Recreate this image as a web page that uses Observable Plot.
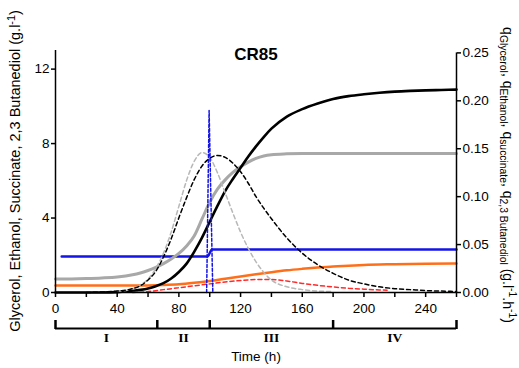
<!DOCTYPE html>
<html><head><meta charset="utf-8">
<script src="https://cdn.jsdelivr.net/npm/d3@7"></script>
<script src="https://cdn.jsdelivr.net/npm/@observablehq/plot@0.6"></script>
<style>body{margin:0;background:#fff} svg{display:block}</style>
</head><body><div id="chart"></div>
<script>
const FONT = "'Liberation Sans', Arial, sans-serif";
const SERIF = "'Liberation Serif', 'Times New Roman', serif";

// ---- data (concentrations, g/l, left axis) ----
const blackT = [0,10,20,30,40,50,55,60,65,70,75,80,85,90,95,100,105,110,115,120,125,130,135,140,150,160,170,180,190,200,210,220,230,240,250,260];
const blackV = [0,0,0,0,0.02,0.08,0.14,0.22,0.34,0.5,0.75,1.1,1.55,2.2,2.95,3.8,4.65,5.45,6.1,6.7,7.3,7.85,8.35,8.8,9.45,9.85,10.15,10.4,10.55,10.65,10.73,10.79,10.83,10.86,10.88,10.9];
const grayT = [0,10,20,30,40,50,55,60,65,70,75,80,85,90,95,100,105,110,115,120,125,130,135,140,150,160,200,260];
const grayV = [0.72,0.73,0.75,0.78,0.83,0.95,1.05,1.18,1.35,1.55,1.8,2.1,2.5,3.05,3.95,4.85,5.55,6.05,6.45,6.75,7.0,7.2,7.33,7.4,7.45,7.47,7.47,7.47];
const blueT = [4,98.5,101.5,260];
const blueV = [1.93,1.93,2.31,2.31];
const orangeT = [0,20,40,60,70,80,90,100,110,120,130,140,150,160,170,180,190,200,220,240,260];
const orangeV = [0.37,0.37,0.37,0.38,0.4,0.44,0.52,0.62,0.74,0.86,0.98,1.09,1.19,1.27,1.34,1.4,1.44,1.48,1.52,1.55,1.56];

// ---- data (specific rates, g/l/h, right axis) ----
const qBlackT = [20,30,40,50,55,60,65,70,75,80,85,90,95,100,105,110,115,120,125,130,135,140,150,160,170,180,190,200,210,220,230,240,250,260];
const qBlackV = [0,0.0005,0.0015,0.004,0.007,0.013,0.022,0.037,0.056,0.078,0.099,0.118,0.132,0.14,0.143,0.141,0.135,0.126,0.114,0.1,0.088,0.077,0.057,0.041,0.029,0.02,0.013,0.009,0.006,0.004,0.003,0.002,0.0015,0.001];
const qGrayT = [40,50,55,60,65,70,75,80,85,90,95,100,105,110,115,120,125,130,135,140,150,160,170,180];
const qGrayV = [0.001,0.004,0.008,0.014,0.025,0.041,0.063,0.09,0.117,0.137,0.146,0.141,0.125,0.104,0.083,0.063,0.046,0.032,0.021,0.013,0.006,0.003,0.0015,0.001];
const qRedT = [50,60,70,80,90,100,110,120,130,140,150,160,170,180,190,200,210,215];
const qRedV = [0,0.001,0.003,0.005,0.007,0.009,0.011,0.0125,0.0135,0.0135,0.012,0.0095,0.0075,0.0058,0.0045,0.0035,0.0027,0.0024];
const qBlueT = [98,99.6,102];
const qBlueV = [0,0.19,0];

// ---- axes ----
const majorX = [0,40,80,120,160,200,240];
const minorX = [20,60,100,140,180,220,260];
const leftTicks = [0,4,8,12];
const rightTicks = [0,0.05,0.10,0.15,0.20,0.25];
const phaseBounds = [0,66,100,180,260];
const phases = ["I","II","III","IV"];
const leftMax = 13, rightMax = 0.2525;
const k = leftMax / rightMax;

const rows = (T, V, f = 1) => T.map((t, i) => ({t, v: V[i] * f}));

const solid = (T, V, color, w) => Plot.line(rows(T, V), {x: "t", y: "v", stroke: color, strokeWidth: w, curve: "monotone-x"});
const dashed = (T, V, color, w, dash, curve = "monotone-x") => Plot.line(rows(T, V, k), {x: "t", y: "v", stroke: color, strokeWidth: w, strokeDasharray: dash, curve});

const plot = Plot.plot({
  width: 519, height: 368,
  marginLeft: 55, marginRight: 63, marginTop: 50, marginBottom: 76,
  style: {fontFamily: FONT, fontSize: "13px", color: "#000", background: "#fff", overflow: "visible"},
  x: {domain: [0, 260], axis: null},
  y: {domain: [0, leftMax], axis: null},
  marks: [
    solid(orangeT, orangeV, "#ff6f1a", 2.5),
    solid(blueT, blueV, "#1414e6", 2.5),
    solid(grayT, grayV, "#a8a8a8", 3),
    solid(blackT, blackV, "#000", 2.6),
    dashed(qRedT, qRedV, "#ff2a2a", 1.5, "4,3"),
    dashed(qGrayT, qGrayV, "#b8b8b8", 1.5, "4,3"),
    dashed(qBlackT, qBlackV, "#000", 1.5, "4,3"),
    dashed(qBlueT, qBlueV, "#1414e6", 1.5, "3,2", "linear"),
    Plot.ruleY([0], {strokeWidth: 1.5}),
    Plot.ruleX([0], {strokeWidth: 1.5}),
    Plot.ruleX([260], {y1: 0, y2: 0.25 * k, strokeWidth: 1.5}),
    Plot.axisX({ticks: majorX, tickSize: 5, tickPadding: 6, tickFormat: d => String(d), strokeWidth: 1.5, fontSize: 13.5, label: null}),
    Plot.axisX({ticks: minorX, tickSize: 5, tickFormat: () => "", strokeWidth: 1.5, label: null}),
    Plot.axisY({ticks: leftTicks, tickSize: 4, tickPadding: 2, strokeWidth: 1.5, fontSize: 13.5, label: null}),
    Plot.axisY({anchor: "right", ticks: rightTicks.map(v => v * k), tickFormat: d => (d / k).toFixed(2), tickSize: 4, tickPadding: 2, strokeWidth: 1.5, fontSize: 13.5, label: null}),
    Plot.ruleY([0], {dy: 36, strokeWidth: 2}),
    Plot.axisX({anchor: "top", ticks: phaseBounds, tickSize: 9, tickFormat: () => "", dy: 278, strokeWidth: 2.5, label: null}),
    Plot.text(phases, {x: (d, i) => (phaseBounds[i] + phaseBounds[i + 1]) / 2, frameAnchor: "bottom", dy: 49, fontFamily: SERIF, fontWeight: "bold", fontSize: 13.5}),
    Plot.text(["Time (h)"], {frameAnchor: "bottom", dy: 68, fontSize: 13.5}),
    Plot.text(["CR85"], {frameAnchor: "top", dy: -3, fontWeight: "bold", fontSize: 17})
  ]
});
document.getElementById("chart").append(plot);

// rotated axis titles with sub/superscripts
const svg = d3.select(plot);
function richLabel(x, y, angle, parts, size) {
  const t = svg.append("text")
    .attr("transform", `translate(${x},${y}) rotate(${angle})`)
    .attr("text-anchor", "middle")
    .attr("font-family", FONT)
    .attr("font-size", size)
    .attr("fill", "#000");
  let shift = 0;
  for (const [str, kind] of parts) {
    const target = kind === "sub" ? 3.5 : kind === "sup" ? -5.5 : 0;
    t.append("tspan")
      .attr("dy", target - shift)
      .attr("font-size", kind ? size * 0.74 : size)
      .text(str);
    shift = target;
  }
  return t;
}
richLabel(20, 171, -90, [["Glycerol, Ethanol, Succinate, 2,3 Butanediol (g.l"], ["-1", "sup"], [")"]], 14.5);
richLabel(503, 175, 90, [["q"], ["Glycerol", "sub"], [", q"], ["Ethanol", "sub"], [", q"], ["succinate", "sub"], [", q"], ["2,3 Butanediol", "sub"], [" (g.l"], ["-1", "sup"], [".h"], ["-1", "sup"], [")"]], 14);
</script>
</body></html>
